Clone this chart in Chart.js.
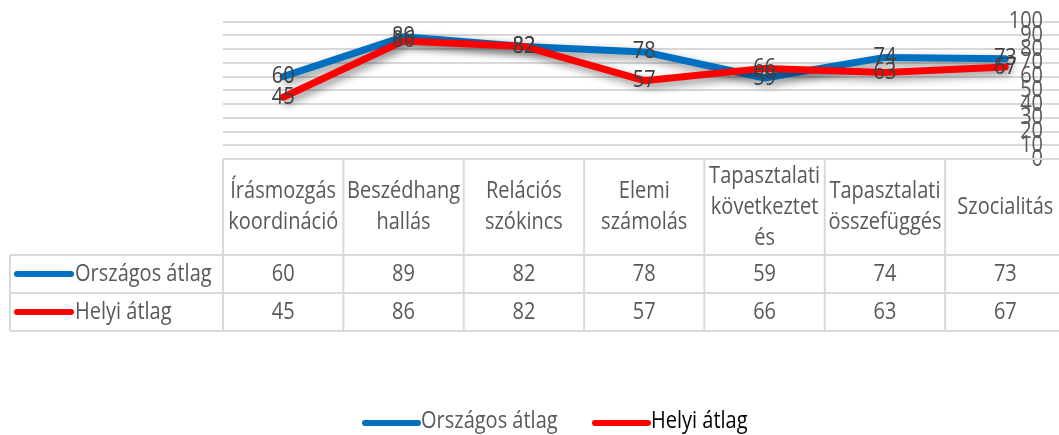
<!DOCTYPE html>
<html>
<head>
<meta charset="utf-8">
<script src="https://cdn.jsdelivr.net/npm/chart.js@4"></script>
<style>
  html, body { margin: 0; padding: 0; background: #fff; overflow: hidden; }
  #wrap { width: 1080px; height: 435px; }
</style>
</head>
<body>
<div id="wrap"><canvas id="chart" width="1080" height="435"></canvas></div>
<script>
// Excel-style line chart with a data table under the plot.

const categories = [
  ['Írásmozgás', 'koordináció'],
  ['Beszédhang', 'hallás'],
  ['Relációs', 'szókincs'],
  ['Elemi', 'számolás'],
  ['Tapasztalati', 'következtet', 'és'],
  ['Tapasztalati', 'összefüggés'],
  ['Szocialitás'],
];
const seriesNames = ['Országos átlag', 'Helyi átlag'];
const orszagosAtlag = [60, 89, 82, 78, 59, 74, 73];
const helyiAtlag = [45, 86, 82, 57, 66, 63, 67];
const yMin = 0;
const yMax = 100;
const yStep = 10;

const FONT = '"Open Sans", sans-serif';
const BLUE = '#0070C0';
const RED = '#FF0000';
const GRID = '#D9D9D9';
const TEXT = '#595959';

// the source picture was stretched a little vertically, text included
function text(c, str, x, y) {
  c.save();
  c.translate(x, y);
  c.scale(1, 1.15);
  c.fillText(str, 0, 0);
  c.restore();
}

// ---------- plugins ----------

const lineShadow = {
  id: 'lineShadow',
  beforeDatasetDraw(chart) {
    const c = chart.ctx;
    c.save();
    c.shadowColor = 'rgba(0,0,0,0.45)';
    c.shadowBlur = 9;
    c.shadowOffsetX = 3;
    c.shadowOffsetY = 4;
  },
  afterDatasetDraw(chart) {
    chart.ctx.restore();
  },
};

const pointLabels = {
  id: 'pointLabels',
  afterDatasetsDraw(chart) {
    const c = chart.ctx;
    c.save();
    c.font = `20px ${FONT}`;
    c.fillStyle = '#404040';
    c.textAlign = 'center';
    c.textBaseline = 'middle';
    chart.data.datasets.forEach((ds, i) => {
      chart.getDatasetMeta(i).data.forEach((pt, j) => {
        text(c, String(ds.data[j]), pt.x, pt.y);
      });
    });
    // y axis labels sit inside the plot, right side, like the original
    const ys = chart.scales.y;
    c.fillStyle = TEXT;
    c.textAlign = 'right';
    for (const t of ys.ticks) {
      text(c, String(t.value), 1043, ys.getPixelForValue(t.value));
    }
    c.restore();
  },
};

const dataTable = {
  id: 'dataTable',
  afterDraw(chart) {
    const c = chart.ctx;
    const xs = chart.scales.x;
    const top = chart.chartArea.bottom;
    const headBottom = top + 96;
    const rowH = 38;
    const legendLeft = 10;
    const half = (xs.getPixelForValue(1) - xs.getPixelForValue(0)) / 2;
    const left = xs.getPixelForValue(0) - half;
    const right = xs.getPixelForValue(categories.length - 1) + half;

    c.save();
    c.strokeStyle = GRID;
    c.lineWidth = 2;
    c.beginPath();
    c.moveTo(left, top); c.lineTo(right, top);
    for (let r = 0; r <= 2; r++) {
      const y = headBottom + r * rowH;
      c.moveTo(legendLeft, y); c.lineTo(right, y);
    }
    c.moveTo(legendLeft, headBottom); c.lineTo(legendLeft, headBottom + 2 * rowH);
    for (let i = 0; i <= categories.length; i++) {
      const x = left + i * half * 2;
      c.moveTo(x, top); c.lineTo(x, headBottom + 2 * rowH);
    }
    c.stroke();

    c.font = `20px ${FONT}`;
    c.fillStyle = TEXT;
    c.textAlign = 'center';
    c.textBaseline = 'middle';
    const headMid = (top + headBottom) / 2;
    categories.forEach((lines, i) => {
      const x = xs.getPixelForValue(i);
      const y0 = headMid - ((lines.length - 1) * 31) / 2;
      lines.forEach((ln, k) => text(c, ln, x, y0 + k * 31));
    });

    chart.data.datasets.forEach((ds, r) => {
      const y = headBottom + r * rowH + rowH / 2;
      c.textAlign = 'center';
      c.fillStyle = TEXT;
      ds.data.forEach((v, i) => text(c, String(v), xs.getPixelForValue(i), y));
      c.strokeStyle = ds.borderColor;
      c.lineWidth = 6;
      c.lineCap = 'round';
      c.beginPath();
      c.moveTo(17, y); c.lineTo(71, y);
      c.stroke();
      c.textAlign = 'left';
      text(c, ds.label, 75, y);
    });

    // bottom legend
    const ly = 421;
    const items = [
      { x: 365, ds: chart.data.datasets[0], colour: TEXT },
      { x: 595, ds: chart.data.datasets[1], colour: '#000' },
    ];
    for (const it of items) {
      c.strokeStyle = it.ds.borderColor;
      c.lineWidth = 6;
      c.lineCap = 'round';
      c.beginPath();
      c.moveTo(it.x, ly + 2); c.lineTo(it.x + 53, ly + 2);
      c.stroke();
      c.fillStyle = it.colour;
      c.textAlign = 'left';
      text(c, it.ds.label, it.x + 56, ly);
    }
    c.restore();
  },
};

// ---------- chart ----------

new Chart(document.getElementById('chart'), {
  type: 'line',
  data: {
    labels: categories,
    datasets: [
      {
        label: seriesNames[0],
        data: orszagosAtlag,
        borderColor: BLUE,
        backgroundColor: BLUE,
        borderWidth: 7,
        pointRadius: 0,
        borderJoinStyle: 'round',
        borderCapStyle: 'round',
        order: 2,
      },
      {
        label: seriesNames[1],
        data: helyiAtlag,
        borderColor: RED,
        backgroundColor: RED,
        borderWidth: 7,
        pointRadius: 0,
        borderJoinStyle: 'round',
        borderCapStyle: 'round',
        order: 1,
      },
    ],
  },
  options: {
    responsive: false,
    animation: false,
    layout: { padding: { left: 223, right: 14.5, top: 21.7, bottom: 276 } },
    plugins: {
      legend: { display: false },
      tooltip: { enabled: false },
    },
    scales: {
      x: {
        display: false,
        offset: true,
      },
      y: {
        position: 'right',
        min: yMin,
        max: yMax,
        ticks: { display: false, stepSize: yStep },
        border: { display: false },
        grid: { color: GRID, lineWidth: 2, drawTicks: false },
      },
    },
  },
  plugins: [lineShadow, pointLabels, dataTable],
});
</script>
</body>
</html>
